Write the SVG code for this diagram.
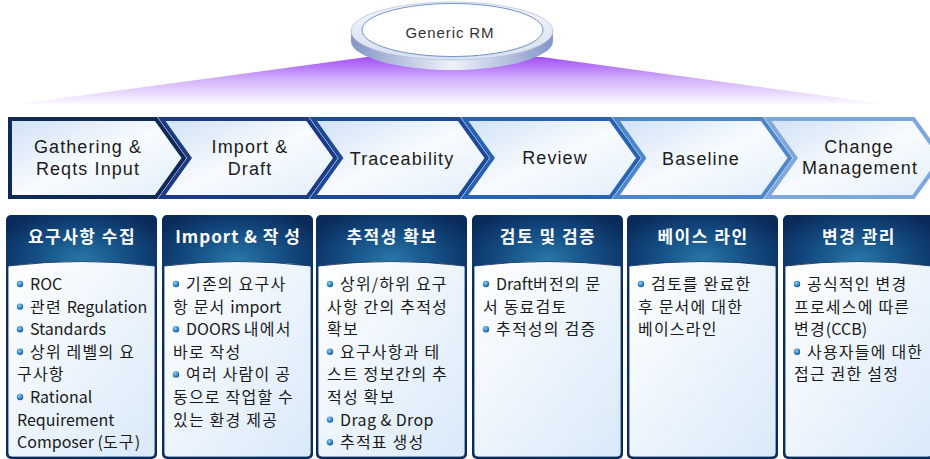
<svg xmlns="http://www.w3.org/2000/svg" width="930" height="459" viewBox="0 0 930 459">
<defs>
<style>
.chev{stroke-width:4;stroke-linejoin:miter;fill:url(#chevFill)}
.ct{font-family:"Liberation Sans",Arial,sans-serif;font-size:18px;fill:#1c1c1c;text-anchor:middle;letter-spacing:1.1px}
.hd{font-family:"Noto Sans CJK KR","Liberation Sans",sans-serif;font-size:17px;font-weight:bold;fill:#ffffff;text-anchor:middle;letter-spacing:1.5px}
.bt{font-family:"Noto Sans CJK KR","Liberation Sans",sans-serif;font-size:16px;fill:#1a1a1a}
.k{letter-spacing:1.2px}
</style>
<linearGradient id="purple" x1="0" y1="57" x2="0" y2="106" gradientUnits="userSpaceOnUse">
<stop offset="0" stop-color="#a24ff6"/>
<stop offset="0.45" stop-color="#d2b0fb"/>
<stop offset="1" stop-color="#ffffff"/>
</linearGradient>
<linearGradient id="side" x1="0" y1="0" x2="1" y2="0">
<stop offset="0" stop-color="#8496c6"/>
<stop offset="0.5" stop-color="#eef2fa"/>
<stop offset="1" stop-color="#8496c6"/>
</linearGradient>
<linearGradient id="topface" x1="0" y1="0" x2="0" y2="1">
<stop offset="0" stop-color="#f3f6fb"/>
<stop offset="1" stop-color="#d7e0ef"/>
</linearGradient>
<linearGradient id="chevFill" x1="0" y1="0" x2="1" y2="1">
<stop offset="0" stop-color="#cfe1f5"/>
<stop offset="0.5" stop-color="#f8fbff"/>
<stop offset="1" stop-color="#e2eefa"/>
</linearGradient>
<radialGradient id="hdr" cx="0.5" cy="0.18" r="0.62" gradientTransform="translate(0.5 0.18) scale(1 0.35) translate(-0.5 -0.18)">
<stop offset="0" stop-color="#2777a8"/>
<stop offset="0.55" stop-color="#134a80"/>
<stop offset="1" stop-color="#0a2a5a"/>
</radialGradient>
<linearGradient id="body" x1="0" y1="0" x2="1" y2="1">
<stop offset="0" stop-color="#ffffff"/>
<stop offset="1" stop-color="#d9e9f9"/>
</linearGradient>
<radialGradient id="bul" cx="0.4" cy="0.35" r="0.65">
<stop offset="0" stop-color="#8fd0f4"/>
<stop offset="1" stop-color="#0a5aa0"/>
</radialGradient>
<g id="frame">
<rect x="0" y="215" width="151" height="244" rx="5" fill="url(#hdr)"/>
<path d="M2,266 Q75.5,257 149,266 L149,453 Q149,457 145,457 L6,457 Q2,457 2,453 Z" fill="url(#body)" stroke="#0c2d5c" stroke-width="0.8"/>
</g>
<circle id="b" r="3.2" fill="url(#bul)"/>
</defs>

<rect width="930" height="459" fill="#ffffff"/>

<g id="generic-rm">
<polygon points="18,104 367,57 542,57 884,104" fill="url(#purple)"/>
<path d="M351,31 L351,41 A101 29 0 0 0 553,41 L553,31 Z" fill="url(#side)"/>
<ellipse cx="452" cy="31" rx="101" ry="29" fill="url(#topface)" stroke="#b8c4dc" stroke-width="0.8"/>
<ellipse cx="452.5" cy="30" rx="90.5" ry="26.5" fill="#ffffff" stroke="#7190c6" stroke-width="1"/>
<text x="450" y="38" font-family="Liberation Sans,Arial,sans-serif" font-size="15" fill="#333333" text-anchor="middle" letter-spacing="0.9">Generic RM</text>
</g>

<g id="chevrons">
<g id="chev-gathering">
<path class="chev" stroke="#0e2a55" d="M10,119 L156,119 L184,158 L156,197 L10,197 Z"/>
<text class="ct" x="88" y="153">Gathering &amp;</text>
<text class="ct" x="88" y="175">Reqts Input</text>
</g>
<g id="chev-import">
<path class="chev" stroke="#1d3a86" d="M161.5,119 L307.5,119 L335.5,158 L307.5,197 L161.5,197 L189.5,158 Z"/>
<text class="ct" x="250" y="153">Import &amp;</text>
<text class="ct" x="250" y="175">Draft</text>
</g>
<g id="chev-trace">
<path class="chev" stroke="#1c4a99" d="M313,119 L459,119 L487,158 L459,197 L313,197 L341,158 Z"/>
<text class="ct" x="402" y="165">Traceability</text>
</g>
<g id="chev-review">
<path class="chev" stroke="#2862b3" d="M464.5,119 L610.5,119 L638.5,158 L610.5,197 L464.5,197 L492.5,158 Z"/>
<text class="ct" x="555" y="164">Review</text>
</g>
<g id="chev-baseline">
<path class="chev" stroke="#4c86cb" d="M616,119 L762,119 L790,158 L762,197 L616,197 L644,158 Z"/>
<text class="ct" x="701" y="165">Baseline</text>
</g>
<g id="chev-change">
<path class="chev" stroke="#7ea8dc" d="M767.5,119 L913.5,119 L941.5,158 L913.5,197 L767.5,197 L795.5,158 Z"/>
<text class="ct" x="859" y="153">Change</text>
<text class="ct" x="860" y="174">Management</text>
</g>
</g>

<g id="col-gather" transform="translate(6,0)">
<use href="#frame"/>
<text class="hd" x="76" y="243">요구사항 수집</text>
<use href="#b" x="14" y="284"/><text class="bt" x="24" y="290">ROC</text>
<use href="#b" x="14" y="306.6"/><text class="bt" x="24" y="312.6"><tspan class="k">관련 </tspan>Regulation</text>
<use href="#b" x="14" y="329.2"/><text class="bt" x="24" y="335.2">Standards</text>
<use href="#b" x="14" y="351.8"/><text class="bt k" x="24" y="357.8">상위 레벨의 요</text>
<text class="bt k" x="11" y="380.4">구사항</text>
<use href="#b" x="14" y="397"/><text class="bt" x="24" y="403">Rational</text>
<text class="bt" x="11" y="425.6">Requirement</text>
<text class="bt" x="11" y="448.2">Composer (<tspan class="k">도구</tspan>)</text>
</g>

<g id="col-import" transform="translate(162,0)">
<use href="#frame"/>
<text class="hd" x="76" y="243" style="letter-spacing:1px">Import &amp; 작 성</text>
<use href="#b" x="14" y="284"/><text class="bt k" x="24" y="290">기존의 요구사</text>
<text class="bt" x="11" y="312.6"><tspan class="k">항 문서 </tspan>import</text>
<use href="#b" x="14" y="329.2"/><text class="bt" x="24" y="335.2">DOORS <tspan class="k">내에서</tspan></text>
<text class="bt k" x="11" y="357.8">바로 작성</text>
<use href="#b" x="14" y="374.4"/><text class="bt k" x="24" y="380.4">여러 사람이 공</text>
<text class="bt k" x="11" y="403">동으로 작업할 수</text>
<text class="bt k" x="11" y="425.6">있는 환경 제공</text>
</g>

<g id="col-trace" transform="translate(316,0)">
<use href="#frame"/>
<text class="hd" x="76" y="243">추적성 확보</text>
<use href="#b" x="14" y="284"/><text class="bt k" x="24" y="290">상위/하위 요구</text>
<text class="bt k" x="11" y="312.6">사항 간의 추적성</text>
<text class="bt k" x="11" y="335.2">확보</text>
<use href="#b" x="14" y="351.8"/><text class="bt k" x="24" y="357.8">요구사항과 테</text>
<text class="bt k" x="11" y="380.4">스트 정보간의 추</text>
<text class="bt k" x="11" y="403">적성 확보</text>
<use href="#b" x="14" y="419.6"/><text class="bt" x="24" y="425.6" style="letter-spacing:0.4px">Drag &amp; Drop</text>
<use href="#b" x="14" y="442.2"/><text class="bt k" x="24" y="448.2">추적표 생성</text>
</g>

<g id="col-review" transform="translate(472,0)">
<use href="#frame"/>
<text class="hd" x="76" y="243">검토 및 검증</text>
<use href="#b" x="14" y="284"/><text class="bt" x="24" y="290">Draft<tspan class="k">버전의 문</tspan></text>
<text class="bt k" x="11" y="312.6">서 동료검토</text>
<use href="#b" x="14" y="329.2"/><text class="bt k" x="24" y="335.2">추적성의 검증</text>
</g>

<g id="col-baseline" transform="translate(627,0)">
<use href="#frame"/>
<text class="hd" x="76" y="243">베이스 라인</text>
<use href="#b" x="14" y="284"/><text class="bt k" x="24" y="290">검토를 완료한</text>
<text class="bt k" x="11" y="312.6">후 문서에 대한</text>
<text class="bt k" x="11" y="335.2">베이스라인</text>
</g>

<g id="col-change" transform="translate(783,0)">
<use href="#frame"/>
<text class="hd" x="76" y="243">변경 관리</text>
<use href="#b" x="14" y="284"/><text class="bt k" x="24" y="290">공식적인 변경</text>
<text class="bt k" x="11" y="312.6">프로세스에 따른</text>
<text class="bt" x="11" y="335.2"><tspan class="k">변경</tspan>(CCB)</text>
<use href="#b" x="14" y="351.8"/><text class="bt k" x="24" y="357.8">사용자들에 대한</text>
<text class="bt k" x="11" y="380.4">접근 권한 설정</text>
</g>
</svg>
